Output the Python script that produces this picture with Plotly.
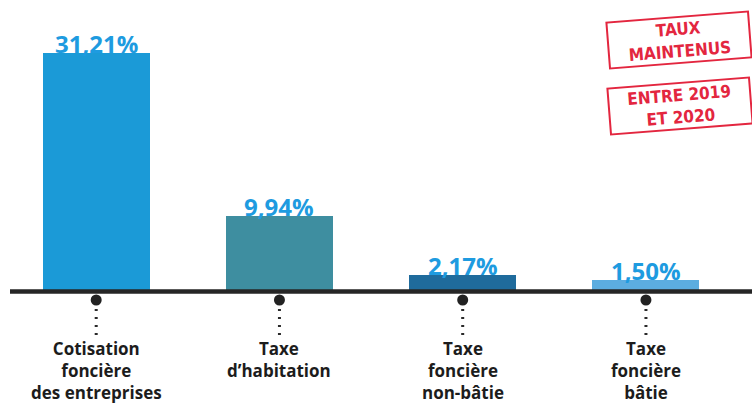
import plotly.graph_objects as go

# ---- data ----
categories = ["Cotisation foncière des entreprises", "Taxe d'habitation",
              "Taxe foncière non-bâtie", "Taxe foncière bâtie"]
label_lines = [["Cotisation", "foncière", "des entreprises"],
               ["Taxe", "d\u2019habitation"],
               ["Taxe", "foncière", "non-bâtie"],
               ["Taxe", "foncière", "bâtie"]]
rates = [31.21, 9.94, 2.17, 1.50]
bar_colors = ["#1b9ad7", "#3e8ea0", "#1f6b9c", "#5cade0"]
stamp_texts = ["TAUX<br>MAINTENUS", "ENTRE 2019<br>ET 2020"]

# ---- geometry helpers (styling only) ----
W, H = 752, 403
BASE_PX = 291.5           # pixel row of the zero line
PX_PER_UNIT = 7.64        # vertical scale
def py(px):               # pixel row -> data y
    return (BASE_PX - px) / PX_PER_UNIT

x_idx = list(range(len(categories)))

fig = go.Figure()
fig.add_trace(go.Bar(x=x_idx, y=rates, marker=dict(color=bar_colors, line=dict(width=0)),
                     width=0.584, hoverinfo="skip", showlegend=False))

# dotted connectors and dots
lx, ly = [], []
for i in x_idx:
    lx += [i, i, None]
    ly += [py(309), py(336), None]
fig.add_trace(go.Scatter(x=lx, y=ly, mode="lines",
                         line=dict(color="#2a2a2a", width=3, dash="2px,6px"),
                         hoverinfo="skip", showlegend=False, cliponaxis=False))
fig.add_trace(go.Scatter(x=x_idx, y=[py(300)] * len(x_idx), mode="markers",
                         marker=dict(color="#222222", size=11), hoverinfo="skip",
                         showlegend=False, cliponaxis=False))

annotations = []
for i, v in zip(x_idx, rates):
    annotations.append(dict(x=i, y=v, xref="x", yref="y", yanchor="bottom", yshift=-9,
                            text="<b>" + f"{v:.2f}".replace(".", ",") + "%</b>", showarrow=False,
                            font=dict(family="Open Sans", size=24, color="#1e9be0")))
for i, lines in zip(x_idx, label_lines):
    annotations.append(dict(x=i, y=py(335), xref="x", yref="y", yanchor="top",
                            text="<b>" + "<br>".join(lines) + "</b>", showarrow=False,
                            font=dict(family="Open Sans", size=17, color="#1c1c1c")))

stamp_pos = [(678, 40), (679, 106)]
for t, (cx, cy) in zip(stamp_texts, stamp_pos):
    annotations.append(dict(x=cx / W, y=1 - cy / H, xref="paper", yref="paper",
                            xanchor="center", yanchor="middle", text="<b>" + t + "</b>",
                            showarrow=False, textangle=-4.5, width=138, height=42,
                            bordercolor="#e3263f", borderwidth=2, borderpad=1,
                            font=dict(family="DejaVu Sans Condensed, Roboto, sans-serif",
                                      size=17, color="#e3263f")))

r0 = -86.2 / 183.25
fig.update_layout(
    width=W, height=H, margin=dict(l=10, r=0, t=0, b=0),
    paper_bgcolor="white", plot_bgcolor="white",
    xaxis=dict(range=[r0, r0 + 742 / 183.25], visible=False, fixedrange=True),
    yaxis=dict(range=[py(H), py(0)], visible=False, fixedrange=True),
    annotations=annotations,
    shapes=[dict(type="line", xref="paper", yref="y", x0=0, x1=1, y0=0, y1=0,
                 line=dict(color="#262626", width=4.5), layer="above")],
    bargap=0,
)
fig.write_html("out.html", config={"displayModeBar": False},
               post_script="document.body.style.margin='0';document.body.style.overflow='hidden';")
